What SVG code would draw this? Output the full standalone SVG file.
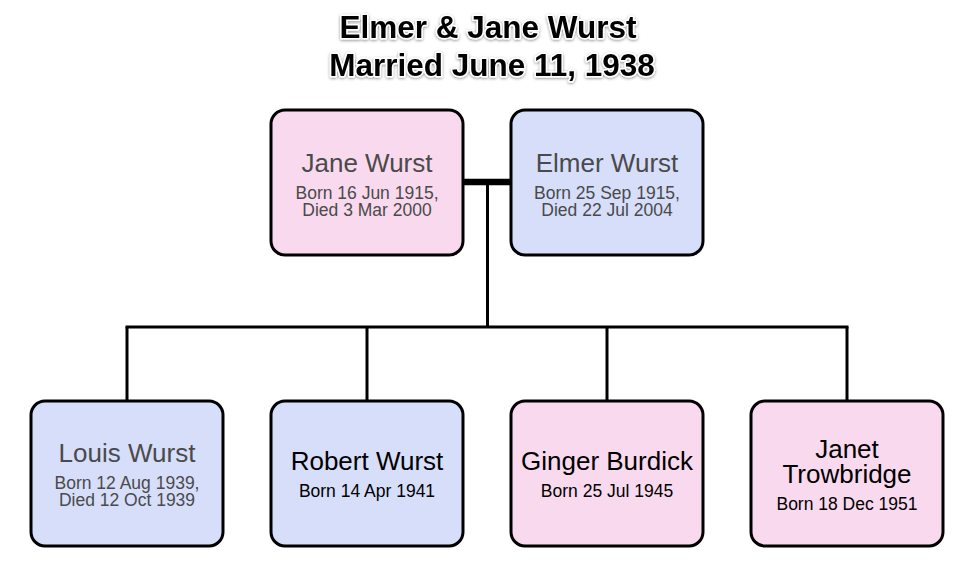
<svg xmlns="http://www.w3.org/2000/svg" width="959" height="563" viewBox="0 0 959 563">
<defs>
<style>
.box{stroke:#000;stroke-width:3}
.f{fill:#f9d9ee}
.m{fill:#d6defa}
.name{font-family:"Liberation Sans",Arial,sans-serif;font-size:26px;text-anchor:middle}
.date{font-family:"Liberation Sans",Arial,sans-serif;font-size:17.5px;text-anchor:middle}
.dead{fill:#4a4a4a}
.alive{fill:#000}
.title{font-family:"Liberation Sans",Arial,sans-serif;font-weight:bold;font-size:31.5px;text-anchor:middle;fill:#000;stroke:#fff;stroke-width:3;paint-order:stroke;stroke-linejoin:round}
.line{stroke:#000;stroke-width:3;fill:none}
</style>
<filter id="sh" x="-10%" y="-30%" width="120%" height="160%">
<feDropShadow dx="0" dy="1" stdDeviation="1.5" flood-color="#000" flood-opacity="0.45"/>
</filter>
</defs>
<rect width="959" height="563" fill="#fff"/>
<g id="title" filter="url(#sh)">
<text class="title" x="488" y="38">Elmer &amp; Jane Wurst</text>
<text class="title" x="492" y="76">Married June 11, 1938</text>
</g>
<g id="connectors">
<line x1="463" y1="182" x2="510" y2="182" stroke="#000" stroke-width="6.5"/>
<line class="line" x1="487.5" y1="182" x2="487.5" y2="327"/>
<line class="line" x1="125.5" y1="327" x2="848.5" y2="327"/>
<line class="line" x1="127" y1="327" x2="127" y2="400"/>
<line class="line" x1="367" y1="327" x2="367" y2="400"/>
<line class="line" x1="607" y1="327" x2="607" y2="400"/>
<line class="line" x1="847" y1="327" x2="847" y2="400"/>
</g>
<g id="jane">
<rect class="box f" x="271" y="110" width="192" height="145" rx="14"/>
<text class="name dead" x="367" y="172">Jane Wurst</text>
<text class="date dead" x="367" y="199">Born 16 Jun 1915,</text>
<text class="date dead" x="367" y="216">Died 3 Mar 2000</text>
</g>
<g id="elmer">
<rect class="box m" x="511" y="110" width="192" height="145" rx="14"/>
<text class="name dead" x="607" y="172">Elmer Wurst</text>
<text class="date dead" x="607" y="199">Born 25 Sep 1915,</text>
<text class="date dead" x="607" y="216">Died 22 Jul 2004</text>
</g>
<g id="louis">
<rect class="box m" x="31" y="401" width="192" height="145" rx="14"/>
<text class="name dead" x="127" y="462">Louis Wurst</text>
<text class="date dead" x="127" y="489">Born 12 Aug 1939,</text>
<text class="date dead" x="127" y="506">Died 12 Oct 1939</text>
</g>
<g id="robert">
<rect class="box m" x="271" y="401" width="192" height="145" rx="14"/>
<text class="name alive" x="367" y="470">Robert Wurst</text>
<text class="date alive" x="367" y="497">Born 14 Apr 1941</text>
</g>
<g id="ginger">
<rect class="box f" x="511" y="401" width="192" height="145" rx="14"/>
<text class="name alive" x="607" y="470">Ginger Burdick</text>
<text class="date alive" x="607" y="497">Born 25 Jul 1945</text>
</g>
<g id="janet">
<rect class="box f" x="751" y="401" width="192" height="145" rx="14"/>
<text class="name alive" x="847" y="458">Janet</text>
<text class="name alive" x="847" y="483">Trowbridge</text>
<text class="date alive" x="847" y="510">Born 18 Dec 1951</text>
</g>
</svg>
